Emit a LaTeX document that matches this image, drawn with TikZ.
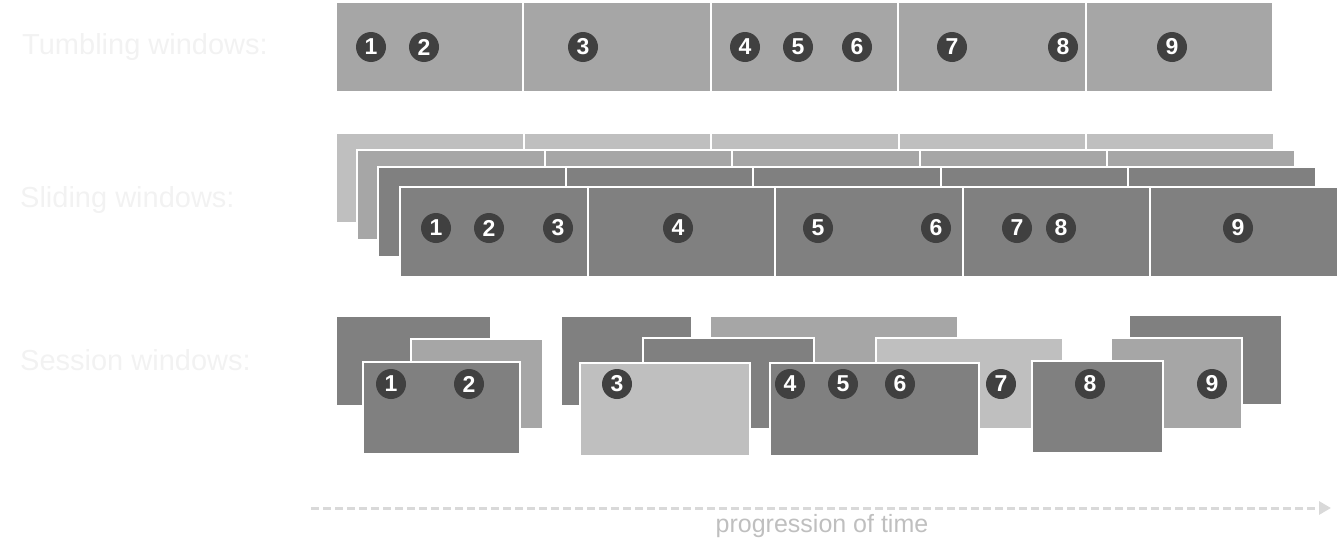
\documentclass[tikz,border=0pt]{standalone}
\usepackage{fontspec}
\setmainfont{Liberation Sans}
\usetikzlibrary{arrows.meta}
\definecolor{winlight}{HTML}{BFBFBF}
\definecolor{winmid}{HTML}{A6A6A6}
\definecolor{windark}{HTML}{808080}
\definecolor{evfill}{HTML}{404040}
\definecolor{labgray}{HTML}{F2F2F2}
\definecolor{timegray}{HTML}{D9D9D9}
\definecolor{timetext}{HTML}{BFBFBF}
\tikzset{
  win/.style={draw=white, line width=2pt, inner sep=0pt, outer sep=0pt, anchor=north west, minimum height=90pt},
  ev/.style={circle, fill=evfill, text=white, inner sep=0pt, minimum size=30pt, font=\fontsize{23}{23}\selectfont\bfseries},
  rowlabel/.style={text=labgray, anchor=west, inner sep=0pt, font=\fontsize{29}{31}\selectfont}
}
\begin{document}
\begin{tikzpicture}[x=1pt, y=-1pt]
			\useasboundingbox (0,0) rectangle (1343,554);
			
			\node[rowlabel] (tlab) at (22,47) {Tumbling windows:};
			\node[rowlabel] (slab) at (20,200) {Sliding windows:};
			\node[rowlabel] (selab) at (20,360) {Session windows:};
			
			\foreach \i in {0,...,4}
				\node[win, fill=winmid, minimum width=187.4pt] (t\i) at ({336+187.4*\i},2) {};
			
			\foreach \r/\x/\y/\c in {1/336/133/winlight, 2/357/150/winmid, 3/378/167/windark, 4/400/187/windark}
				\foreach \i in {0,...,4}
					\node[win, fill=\c, minimum width=187.5pt] (s\r\i) at ({\x+187.5*\i},\y) {};
			
			\node[win, fill=windark, minimum width=155pt] (sa) at (336,316) {};
			\node[win, fill=winmid, minimum width=132pt] (sb) at (411,339) {};
			\node[win, fill=windark, minimum width=157pt, minimum height=92pt] (sc) at (363,362) {};
			\node[win, fill=windark, minimum width=131pt] (sd) at (561,316) {};
			\node[win, fill=winmid, minimum width=248pt] (se) at (710,316) {};
			\node[win, fill=windark, minimum width=171pt, minimum height=91pt] (sf) at (643,338) {};
			\node[win, fill=winlight, minimum width=170pt, minimum height=93pt] (sg) at (580,363) {};
			\node[win, fill=winlight, minimum width=187pt, minimum height=91pt] (sh) at (876,338) {};
			\node[win, fill=windark, minimum width=209pt, minimum height=93pt] (si) at (770,363) {};
			\node[win, fill=windark, minimum width=153pt] (sj) at (1129,315) {};
			\node[win, fill=winmid, minimum width=131pt, minimum height=91pt] (sk) at (1111,338) {};
			\node[win, fill=windark, minimum width=131pt, minimum height=92pt] (sl) at (1032,361) {};
			
			\foreach \n/\x in {1/371, 2/424, 3/583, 4/745, 5/798, 6/857, 7/952, 8/1063, 9/1172}
				\node[ev] (te\n) at (\x,47) {\n};
			\foreach \n/\x in {1/436, 2/489, 3/558, 4/678, 5/818, 6/936, 7/1017, 8/1061, 9/1238}
				\node[ev] (se\n) at (\x,228) {\n};
			\foreach \n/\x in {1/391, 2/469, 3/617, 4/790, 5/843, 6/900, 7/1001, 8/1090, 9/1212}
				\node[ev] (ss\n) at (\x,384) {\n};
			
			\coordinate (tstart) at (311,508);
			\coordinate (tend) at (1331,508);
			\draw[timegray, line width=3pt, dash pattern=on 8pt off 4pt, -{Triangle[length=12pt, width=13pt]}] (tstart) -- (tend);
			\node[text=timetext, font=\fontsize{25}{27}\selectfont] (ttext) at (822,526) {progression of time};
			
\end{tikzpicture}
\end{document}
